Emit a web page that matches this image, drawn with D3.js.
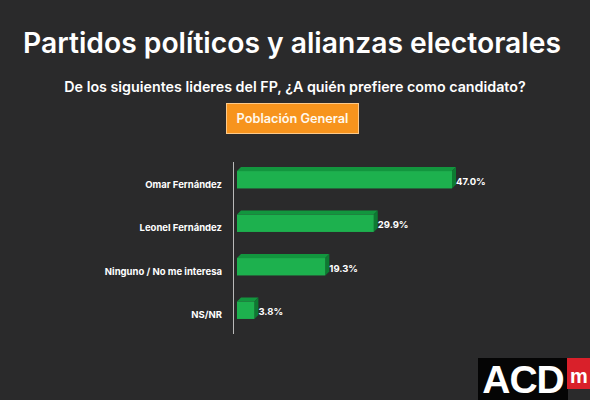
<!DOCTYPE html>
<html>
<head>
<meta charset="utf-8">
<script src="https://cdn.jsdelivr.net/npm/d3@7"></script>
<style>
  html, body { margin: 0; padding: 0; background: #2a2a2b; }
  svg { display: block; }
</style>
</head>
<body>
<div id="chart"></div>
<script>
const WIDTH = 590, HEIGHT = 400;

const TITLE = "Partidos políticos y alianzas electorales";
const SUBTITLE = "De los siguientes lideres del FP, ¿A quién prefiere como candidato?";
const BADGE = "Población General";

const categories = ["Omar Fernández", "Leonel Fernández", "Ninguno / No me interesa", "NS/NR"];
const values = [47.0, 29.9, 19.3, 3.8];

const COLOR_BG = "#2a2a2b";
const COLOR_FRONT = "#1db14e";
const COLOR_TOP = "#12963e";
const COLOR_SIDE = "#0d7a32";
const DEPTH = 4;

const data = categories.map((c, i) => ({ cat: c, val: values[i] }));

const svg = d3.select("#chart")
    .append("svg")
    .attr("width", WIDTH)
    .attr("height", HEIGHT);

svg.append("rect")
    .attr("width", WIDTH)
    .attr("height", HEIGHT)
    .attr("fill", COLOR_BG);

// shrink/grow a text so it spans the wanted width
function fitText(sel, target) {
    const w = sel.node().getComputedTextLength();
    const fs = parseFloat(sel.style("font-size"));
    sel.style("font-size", (fs * target / w) + "px");
}

// Title
const title = svg.append("text")
    .attr("x", 292)
    .attr("y", 53)
    .attr("text-anchor", "middle")
    .style("font-family", "Inter, 'Open Sans', sans-serif")
    .style("font-weight", 600)
    .style("font-size", "28px")
    .style("fill", "#ffffff")
    .text(TITLE);
fitText(title, 538);

const sub = svg.append("text")
    .attr("x", 295)
    .attr("y", 92)
    .attr("text-anchor", "middle")
    .style("font-family", "Inter, 'Open Sans', sans-serif")
    .style("font-weight", 600)
    .style("font-size", "14px")
    .style("fill", "#ffffff")
    .text(SUBTITLE);
fitText(sub, 462);

// Badge
svg.append("rect")
    .attr("x", 226.5)
    .attr("y", 103.5)
    .attr("width", 132)
    .attr("height", 30)
    .attr("fill", "#f7941d")
    .attr("stroke", "#fcc98a")
    .attr("stroke-width", 1);

const badge = svg.append("text")
    .attr("x", 292.5)
    .attr("y", 123)
    .attr("text-anchor", "middle")
    .style("font-family", "Inter, 'Open Sans', sans-serif")
    .style("font-weight", 600)
    .style("font-size", "12px")
    .style("fill", "#fff8ec")
    .text(BADGE);
fitText(badge, 112);

// Scales
const x = d3.scaleLinear()
    .domain([0, 47])
    .range([237, 452]);

const y = d3.scaleBand()
    .domain(categories)
    .range([158, 332])
    .paddingInner(0.6)
    .paddingOuter(0.3);

// Axis line
svg.append("line")
    .attr("x1", 233.5).attr("x2", 233.5)
    .attr("y1", 162).attr("y2", 334)
    .attr("stroke", "#b9b9b9")
    .attr("stroke-width", 1);

const bh = y.bandwidth();

// Top faces
svg.selectAll("path.top")
    .data(data)
    .join("path")
    .attr("class", "top")
    .attr("d", d => {
        const x0 = x(0), x1 = x(d.val), y0 = y(d.cat);
        return `M${x0},${y0} L${x0 + DEPTH},${y0 - DEPTH} L${x1 + DEPTH},${y0 - DEPTH} L${x1},${y0} Z`;
    })
    .attr("fill", COLOR_TOP);

// Side faces
svg.selectAll("path.side")
    .data(data)
    .join("path")
    .attr("class", "side")
    .attr("d", d => {
        const x1 = x(d.val), y0 = y(d.cat);
        return `M${x1},${y0} L${x1 + DEPTH},${y0 - DEPTH} L${x1 + DEPTH},${y0 + bh - DEPTH} L${x1},${y0 + bh} Z`;
    })
    .attr("fill", COLOR_SIDE);

// Front faces
svg.selectAll("rect.bar")
    .data(data)
    .join("rect")
    .attr("class", "bar")
    .attr("x", x(0))
    .attr("y", d => y(d.cat))
    .attr("width", d => x(d.val) - x(0))
    .attr("height", bh)
    .attr("fill", COLOR_FRONT);

// Category labels
svg.selectAll("text.cat")
    .data(data)
    .join("text")
    .attr("class", "cat")
    .attr("x", 222)
    .attr("y", d => y(d.cat) + bh / 2 + 8)
    .attr("text-anchor", "end")
    .style("font-family", "Inter, 'Open Sans', sans-serif")
    .style("font-weight", 700)
    .style("font-size", "9.5px")
    .style("fill", "#ffffff")
    .text(d => d.cat);

// Value labels
svg.selectAll("text.val")
    .data(data)
    .join("text")
    .attr("class", "val")
    .attr("x", d => x(d.val) + 4)
    .attr("y", d => y(d.cat) + bh / 2 + 5)
    .style("font-family", "Inter, 'Open Sans', sans-serif")
    .style("font-weight", 700)
    .style("font-size", "9.5px")
    .style("fill", "#ffffff")
    .text(d => d.val.toFixed(1) + "%");

// Logo
const logo = svg.append("g");
logo.append("rect")
    .attr("x", 478).attr("y", 358)
    .attr("width", 90).attr("height", 42)
    .attr("fill", "#050505");
logo.append("rect")
    .attr("x", 567).attr("y", 358)
    .attr("width", 23).attr("height", 31)
    .attr("fill", "#d9202a");
logo.append("text")
    .attr("x", 523).attr("y", 393)
    .attr("text-anchor", "middle")
    .style("font-family", "'Liberation Sans', Arial, sans-serif")
    .style("font-weight", 700)
    .style("font-size", "39px")
    .style("letter-spacing", "-1px")
    .style("fill", "#ffffff")
    .text("ACD");
logo.append("text")
    .attr("x", 570).attr("y", 383)
    .style("font-family", "'Liberation Sans', Arial, sans-serif")
    .style("font-weight", 700)
    .style("font-size", "20px")
    .style("fill", "#ffffff")
    .text("m");
</script>
</body>
</html>
